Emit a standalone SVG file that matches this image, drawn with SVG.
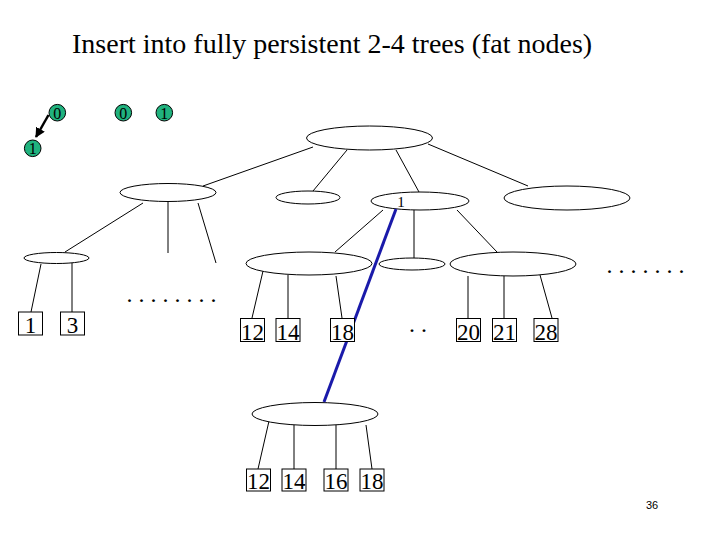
<svg xmlns="http://www.w3.org/2000/svg" width="720" height="540" viewBox="0 0 720 540">
<style>
.t{font-family:"Liberation Serif","Times New Roman",serif;fill:#000}
.e{fill:#fff;stroke:#000;stroke-width:1}
.l{stroke:#000;stroke-width:1;fill:none}
.b{fill:#fff;stroke:#000;stroke-width:1}
.g{fill:#20b27e;stroke:#000;stroke-width:1}
.k{font-size:23px;text-anchor:middle}
.d{font-size:24px}
.c{font-size:16px;text-anchor:middle}
</style>
<defs>
<marker id="ah" viewBox="0 0 10 10" refX="9" refY="5" markerWidth="4" markerHeight="4" orient="auto" markerUnits="strokeWidth">
<path d="M0,0 L10,5 L0,10 z" fill="#000"/>
</marker>
</defs>
<rect width="720" height="540" fill="#fff"/>
<text class="t" x="72" y="53" font-size="28">Insert into fully persistent 2-4 trees (fat nodes)</text>

<g id="connectors">
<line class="l" x1="313" y1="147" x2="203" y2="186"/>
<line class="l" x1="347" y1="150" x2="313" y2="191"/>
<line class="l" x1="396" y1="150" x2="419" y2="192"/>
<line class="l" x1="428" y1="144" x2="528" y2="186"/>
<line class="l" x1="143" y1="203" x2="65" y2="252"/>
<line class="l" x1="168" y1="202" x2="168" y2="253"/>
<line class="l" x1="198" y1="203" x2="216" y2="263"/>
<line class="l" x1="41" y1="264" x2="31" y2="312"/>
<line class="l" x1="72" y1="263" x2="72" y2="312"/>
<line class="l" x1="383" y1="210" x2="335" y2="252"/>
<line class="l" x1="414" y1="210" x2="414" y2="258"/>
<line class="l" x1="457" y1="210" x2="497" y2="252"/>
<line class="l" x1="263" y1="271" x2="252" y2="318"/>
<line class="l" x1="288" y1="275" x2="288" y2="318"/>
<line class="l" x1="336" y1="276" x2="342" y2="318"/>
<line class="l" x1="468" y1="276" x2="468" y2="318"/>
<line class="l" x1="504" y1="276" x2="504" y2="318"/>
<line class="l" x1="540" y1="275" x2="552" y2="318"/>
<line class="l" x1="269" y1="421" x2="258" y2="469"/>
<line class="l" x1="294" y1="425" x2="294" y2="469"/>
<line class="l" x1="336" y1="425" x2="336" y2="469"/>
<line class="l" x1="366" y1="425" x2="372" y2="469"/>
<line x1="48.5" y1="115" x2="36" y2="137" stroke="#000" stroke-width="2.5" marker-end="url(#ah)"/>
</g>

<g id="root"><ellipse class="e" cx="369.5" cy="138" rx="63" ry="12"/></g>
<g id="n-left"><ellipse class="e" cx="168" cy="192.5" rx="48" ry="9"/></g>
<g id="n-mid"><ellipse class="e" cx="308" cy="197.5" rx="32" ry="6.5"/></g>
<g id="n-one"><ellipse class="e" cx="420" cy="201" rx="49" ry="9"/><text class="t" x="401" y="207" font-size="15" text-anchor="middle">1</text></g>
<g id="n-right"><ellipse class="e" cx="567" cy="198" rx="63" ry="12"/></g>
<g id="n-ll"><ellipse class="e" cx="56.5" cy="258" rx="32.5" ry="5.5"/></g>
<g id="n-m1"><ellipse class="e" cx="309" cy="263.5" rx="63" ry="11.5"/></g>
<g id="n-m2"><ellipse class="e" cx="412" cy="264" rx="33" ry="6"/></g>
<g id="n-m3"><ellipse class="e" cx="513" cy="264" rx="63" ry="12"/></g>
<g id="n-new"><ellipse class="e" cx="315" cy="414" rx="63" ry="11.5"/></g>

<g id="blue"><line x1="396" y1="209" x2="324" y2="402" stroke="#1a1aaa" stroke-width="3"/></g>

<g id="leaf-1"><rect class="b" x="18.5" y="312" width="24" height="23"/><text class="t k" x="30.5" y="333">1</text></g>
<g id="leaf-3"><rect class="b" x="60.5" y="312" width="24" height="23"/><text class="t k" x="72.5" y="333">3</text></g>
<g id="leaf-12"><rect class="b" x="240.5" y="318.5" width="24" height="23"/><text class="t k" x="252.5" y="339.5">12</text></g>
<g id="leaf-14"><rect class="b" x="276" y="318.5" width="24" height="23"/><text class="t k" x="288" y="339.5">14</text></g>
<g id="leaf-18"><rect class="b" x="330.5" y="318.5" width="24" height="23"/><text class="t k" x="342.5" y="339.5">18</text></g>
<g id="leaf-20"><rect class="b" x="456.5" y="318.5" width="24" height="23"/><text class="t k" x="468.5" y="339.5">20</text></g>
<g id="leaf-21"><rect class="b" x="492.5" y="318.5" width="24" height="23"/><text class="t k" x="504.5" y="339.5">21</text></g>
<g id="leaf-28"><rect class="b" x="534" y="318.5" width="24" height="23"/><text class="t k" x="546" y="339.5">28</text></g>
<g id="nleaf-12"><rect class="b" x="246.5" y="469" width="24" height="22"/><text class="t k" x="258.5" y="489">12</text></g>
<g id="nleaf-14"><rect class="b" x="282" y="469" width="24" height="22"/><text class="t k" x="294" y="489">14</text></g>
<g id="nleaf-16"><rect class="b" x="324" y="469" width="24" height="22"/><text class="t k" x="336" y="489">16</text></g>
<g id="nleaf-18"><rect class="b" x="360" y="469" width="24" height="22"/><text class="t k" x="372" y="489">18</text></g>

<text class="t d" x="126.5" y="302">. . . . . . . .</text>
<text class="t d" x="606.5" y="273">. . . . . . .</text>
<text class="t d" x="409" y="332">. .</text>

<g id="v0a"><circle class="g" cx="57.3" cy="112.7" r="8.3"/><text class="t c" x="57.3" y="118.5">0</text></g>
<g id="v0b"><circle class="g" cx="123.3" cy="112.7" r="8.3"/><text class="t c" x="123.3" y="118.5">0</text></g>
<g id="v1a"><circle class="g" cx="164.3" cy="112.7" r="8.3"/><text class="t c" x="164.3" y="118.5">1</text></g>
<g id="v1b"><circle class="g" cx="32.7" cy="148.3" r="8.3"/><text class="t c" x="32.7" y="154">1</text></g>

<text x="652" y="509" font-family="'Liberation Sans',Arial,sans-serif" font-size="11" text-anchor="middle">36</text>
</svg>
